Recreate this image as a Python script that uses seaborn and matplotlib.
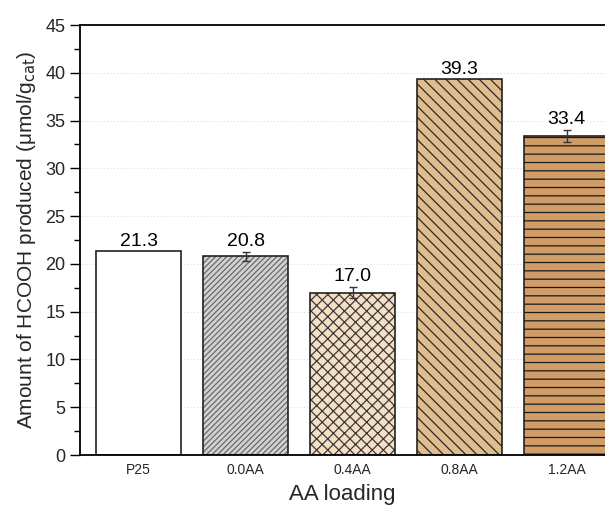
import matplotlib
matplotlib.use("Agg")
import matplotlib.pyplot as plt
import seaborn as sns
import numpy as np
import pandas as pd
from matplotlib.colors import to_rgba
from matplotlib.ticker import MultipleLocator

categories = ["P25", "0.0AA", "0.4AA", "0.8AA", "1.2AA"]
values = [21.3, 20.8, 17.0, 39.3, 33.4]
errors = [0.0, 0.45, 0.55, 0.0, 0.6]
labels = ["21.3", "20.8", "17.0", "39.3", "33.4"]
colors = ["#ffffff", "#d2d2d2", "#f5e0c6", "#e0bd8e", "#d09c68"]
hatches = [None, "//////", "xxx", "\\\\\\", "--"]
hatch_colors = [None, "#6a6a6a", "#3a3a3a", "#2a2a2a", "#1a1a1a"]

sns.set_theme(style="white")
plt.rcParams["font.family"] = ["Liberation Sans", "DejaVu Sans"]
plt.rcParams["hatch.linewidth"] = 0.9

df = pd.DataFrame({"cat": categories, "val": values})

fig = plt.figure(figsize=(6.05, 5.11), dpi=100)
ax = fig.add_axes([80 / 605, 56 / 511, 525 / 605, 430 / 511])

sns.barplot(data=df, x="cat", y="val", hue="cat", palette=colors, legend=False,
            saturation=1, width=0.8, edgecolor="#222222", linewidth=1.2, ax=ax, zorder=2)

for p, h, hc in zip(ax.patches, hatches, hatch_colors):
    if h:
        p.set_hatch(h)
        p._hatch_color = to_rgba(hc)

xs = np.arange(len(categories))
for x, v, e, lab in zip(xs, values, errors, labels):
    if e > 0:
        ax.errorbar(x, v, yerr=e, fmt="none", ecolor="#333333", elinewidth=1.0,
                    capsize=3, capthick=1.0, zorder=3)
    ax.text(x, v + e + 0.2, lab, ha="center", va="bottom", fontsize=14, color="black")

ax.set_ylim(0, 45)
ax.set_xlim(-0.547, -0.547 + 525 / 107)
ax.yaxis.set_major_locator(MultipleLocator(5))
ax.yaxis.set_minor_locator(MultipleLocator(2.5))
ax.tick_params(axis="y", which="major", direction="out", length=7, width=1.0,
               labelsize=13, left=True, color="black")
ax.tick_params(axis="y", which="minor", direction="out", length=4, width=1.0,
               left=True, color="black")
ax.tick_params(axis="x", which="major", length=0, labelsize=10, pad=6)

for y in range(5, 45, 5):
    ax.axhline(y, color="#dddddd", linestyle=(0, (1, 2)), linewidth=0.8, zorder=0)

for s in ["left", "bottom", "top"]:
    ax.spines[s].set_visible(True)
    ax.spines[s].set_color("black")
    ax.spines[s].set_linewidth(1.3)
ax.spines["right"].set_visible(False)

ax.set_xlabel("AA loading", fontsize=16, labelpad=5)
ax.set_ylabel("Amount of HCOOH produced (μmol/g$_{\\mathrm{cat}}$)", fontsize=15, labelpad=5)

fig.savefig("out.png", dpi=100)
